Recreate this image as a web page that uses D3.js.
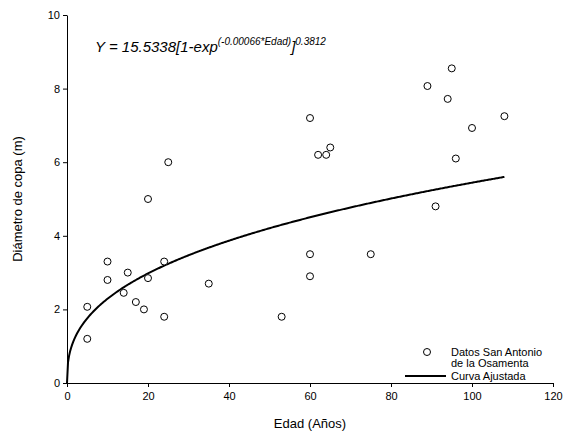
<!DOCTYPE html>
<html><head><meta charset="utf-8">
<script src="https://cdn.jsdelivr.net/npm/d3@7"></script>
<style>body{margin:0;background:#fff}svg{font-family:"Liberation Sans",Arial,sans-serif}</style>
</head><body>
<svg id="c" width="563" height="445"></svg>
<script>
const edad = [5,5,10,10,14,15,17,19,20,20,24,24,25,35,53,60,60,60,62,64,65,75,89,91,94,95,96,100,108];
const diametro = [1.2,2.07,3.3,2.8,2.45,3.0,2.2,2.0,2.85,5.0,3.3,1.8,6.0,2.7,1.8,7.2,3.5,2.9,6.2,6.2,6.4,3.5,8.07,4.8,7.72,8.55,6.1,6.93,7.25];
const xTicks = [0,20,40,60,80,100,120];
const yTicks = [0,2,4,6,8,10];
const A = 15.5338, k = 0.00066, p = 0.3812;

const svg = d3.select("#c");
const x = d3.scaleLinear().domain([0,120]).range([67,553]);
const y = d3.scaleLinear().domain([0,10]).range([383,15]);

svg.append("g").attr("transform","translate(0,383)")
  .call(d3.axisBottom(x).tickValues(xTicks).tickSize(4).tickSizeOuter(0))
  .call(g=>g.selectAll("text").attr("font-size",11).attr("fill","#000").attr("dy","0.9em"));
svg.append("g").attr("transform","translate(67,0)")
  .call(d3.axisLeft(y).tickValues(yTicks).tickSize(4).tickSizeOuter(0))
  .call(g=>g.selectAll("text").attr("font-size",11).attr("fill","#000"));
svg.selectAll(".domain,.tick line").attr("stroke","#000");

const curve = d3.range(0,108.01,0.25).map(t=>[t, A*Math.pow(1-Math.exp(-k*t),p)]);
svg.append("path").datum(curve).attr("fill","none").attr("stroke","#000").attr("stroke-width",2)
  .attr("d", d3.line().x(d=>x(d[0])).y(d=>y(d[1])));

svg.selectAll("circle.pt").data(edad).enter().append("circle").attr("class","pt")
  .attr("cx",(d)=>x(d)).attr("cy",(d,i)=>y(diametro[i])).attr("r",3.5)
  .attr("fill","#fff").attr("stroke","#000").attr("stroke-width",1);

svg.append("text").attr("x",310).attr("y",428).attr("text-anchor","middle").attr("font-size",13).text("Edad (Años)");
svg.append("text").attr("transform","translate(22,199) rotate(-90)").attr("text-anchor","middle").attr("font-size",13).text("Diámetro de copa (m)");

const eq = svg.append("text").attr("x",95).attr("y",52).attr("font-size",15).attr("font-style","italic");
eq.append("tspan").text("Y = 15.5338[1-exp");
eq.append("tspan").attr("font-size",10).attr("dy",-7).text("(-0.00066*Edad)");
eq.append("tspan").attr("font-size",15).attr("dy",7).text("]");
eq.append("tspan").attr("font-size",10).attr("dy",-7).text("0.3812");

svg.append("circle").attr("cx",427).attr("cy",352).attr("r",3.5).attr("fill","#fff").attr("stroke","#000");
svg.append("text").attr("x",451).attr("y",356).attr("font-size",11).text("Datos San Antonio");
svg.append("text").attr("x",451).attr("y",367).attr("font-size",11).text("de la Osamenta");
svg.append("line").attr("x1",405).attr("x2",446).attr("y1",376).attr("y2",376).attr("stroke","#000").attr("stroke-width",2);
svg.append("text").attr("x",451).attr("y",380).attr("font-size",11).text("Curva Ajustada");
</script></body></html>
